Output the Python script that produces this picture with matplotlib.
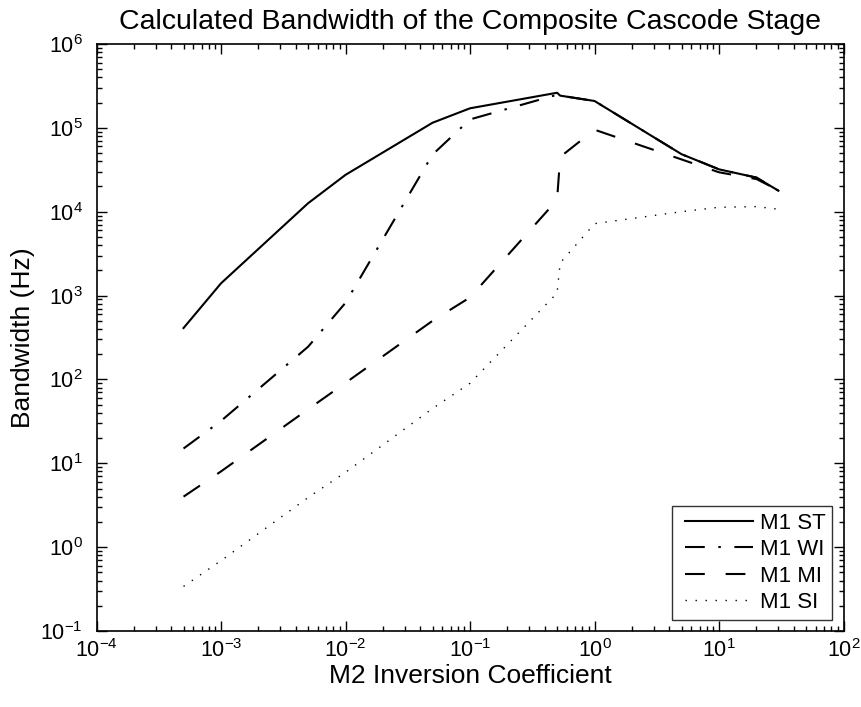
import matplotlib
matplotlib.use("Agg")
import matplotlib.pyplot as plt
from matplotlib.ticker import FixedLocator, NullFormatter, LogFormatterMathtext
from matplotlib.legend_handler import HandlerLine2D

plt.rcParams['font.family'] = ['Liberation Sans', 'DejaVu Sans']
plt.rcParams['mathtext.fontset'] = 'custom'
plt.rcParams['mathtext.rm'] = 'Liberation Sans'
plt.rcParams['mathtext.it'] = 'Liberation Sans'

# M2 inversion coefficient sweep
ic = [5e-4, 1e-3, 5e-3, 1e-2, 5e-2, 1e-1, 5e-1, 0.53, 1, 5, 10, 20, 30]

# Calculated bandwidth (Hz) for each M1 inversion condition
bw_st = [410, 1400, 12600, 27500, 115000, 171000, 262000, 242000, 209000, 48500, 32000, 25500, 17800]
bw_wi = [15, 32, 245, 820, 48000, 126000, 248000, 242000, 209000, 48500, 32000, 25500, 17800]
bw_mi = [4.0, 8.0, 44, 91, 500, 950, 13800, 45000, 95000, 42000, 29500, 24500, 18000]
bw_si = [0.34, 0.69, 3.9, 7.8, 45, 90, 1070, 2450, 7200, 10000, 11300, 11500, 10700]

series_labels = ['M1 ST', 'M1 WI', 'M1 MI', 'M1 SI']

# decade ticks shown on each axis
x_decades = [-4, -3, -2, -1, 0, 1, 2]
y_decades = [-1, 0, 1, 2, 3, 4, 5, 6]

fig = plt.figure(figsize=(8.61, 7.07), dpi=100)
ax = fig.add_axes([0.1121, 0.1075, 0.8676, 0.8303])

ax.plot(ic, bw_st, color='black', lw=1.5, ls='-', label=series_labels[0])
ax.plot(ic, bw_wi, color='black', lw=1.5, dashes=(9.5, 6.5, 1.2, 6.5), label=series_labels[1])
ax.plot(ic, bw_mi, color='black', lw=1.5, dashes=(9.5, 10), label=series_labels[2])
ax.plot(ic, bw_si, color='black', lw=1.0, dashes=(1.0, 6.2), label=series_labels[3])

ax.set_xscale('log')
ax.set_yscale('log')
ax.set_xlim(10.0 ** x_decades[0], 10.0 ** x_decades[-1])
ax.set_ylim(10.0 ** y_decades[0], 10.0 ** y_decades[-1])

ax.xaxis.set_major_locator(FixedLocator([10.0 ** d for d in x_decades]))
ax.yaxis.set_major_locator(FixedLocator([10.0 ** d for d in y_decades]))
ax.xaxis.set_major_formatter(LogFormatterMathtext())
ax.yaxis.set_major_formatter(LogFormatterMathtext())
ax.xaxis.set_minor_locator(FixedLocator([m * 10.0 ** d for d in x_decades[:-1] for m in range(2, 10)]))
ax.yaxis.set_minor_locator(FixedLocator([m * 10.0 ** d for d in y_decades[:-1] for m in range(2, 10)]))
ax.xaxis.set_minor_formatter(NullFormatter())
ax.yaxis.set_minor_formatter(NullFormatter())

ax.tick_params(which='both', direction='in', top=True, right=True, width=1.0)
ax.tick_params(which='major', length=7, labelsize=15.5)
ax.tick_params(axis='x', which='major', pad=6)
ax.tick_params(axis='y', which='major', pad=10)
ax.tick_params(which='minor', length=3.5)
for s in ax.spines.values():
    s.set_linewidth(1.2)

ax.set_xlabel('M2 Inversion Coefficient', fontsize=19, labelpad=1)
ax.set_ylabel('Bandwidth (Hz)', fontsize=19, labelpad=4)
ax.set_title('Calculated Bandwidth of the Composite Cascode Stage', fontsize=20.5, pad=11)

leg = ax.legend(loc='lower right', fontsize=16, frameon=True, fancybox=False,
                edgecolor='black', handlelength=3.33, handletextpad=0.33,
                borderpad=0.3, labelspacing=0.25, borderaxespad=0.5,
                handler_map={plt.Line2D: HandlerLine2D(xpad=0.27)})
leg.get_frame().set_linewidth(1.0)

fig.savefig('out.png', dpi=100)
